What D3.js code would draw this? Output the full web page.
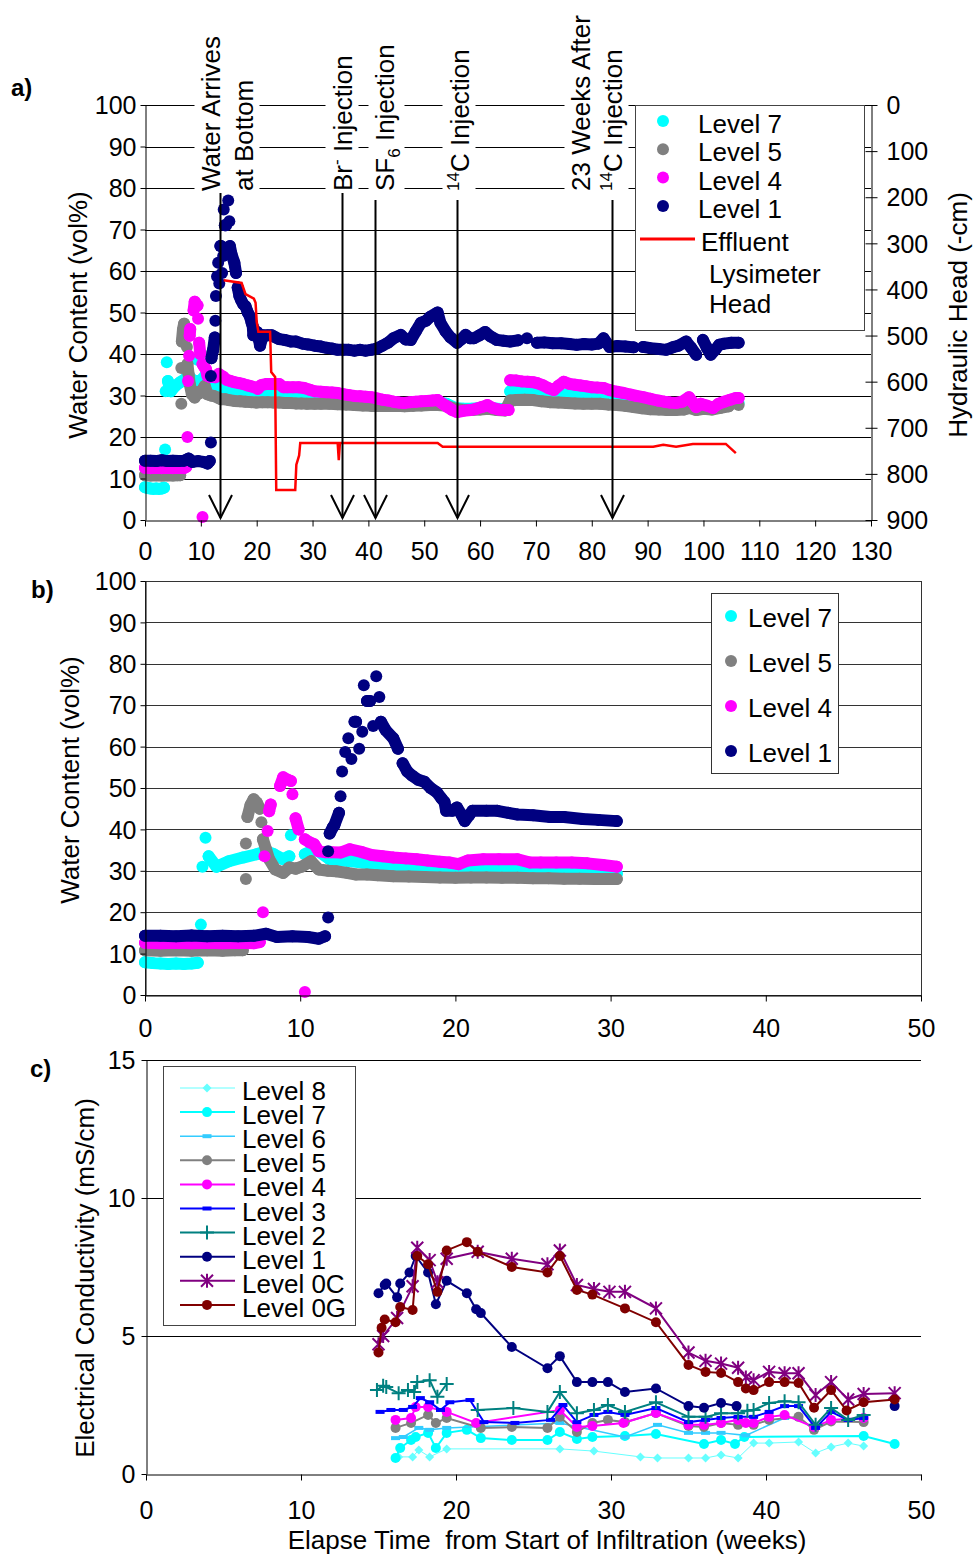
<!DOCTYPE html>
<html>
<head>
<meta charset="utf-8">
<script src="https://cdn.jsdelivr.net/npm/d3@7"></script>
<style>
  body { margin: 0; background: #fff; }
  svg { display: block; font-family: "Liberation Sans", Arial, sans-serif; }
</style>
</head>
<body>
<svg id="chart" width="976" height="1555"></svg>
<script>
// ---- water content readings [week, vol%] (shared by panels a and b)
const level7 = [[0,7.9],[0.5,7.7],[1,7.6],[1.5,7.5],[2,7.6],[2.5,7.5],[3,7.6],[3.4,7.8],[3.6,17],[3.7,31],[3.9,38],[4.1,33.5],[4.6,31],[5.4,32.3],[6.3,33.2],[7.2,34],[7.8,34.7],[8.3,34],[8.9,32.8],[9.3,33.5],[9.4,38.6],[10.3,34],[11,35.2],[11.9,32.8],[12.6,32.5],[13.3,32.3],[14,32],[14.8,31.6],[15.6,31.3],[16.5,31],[17.5,30.7],[18.5,30.5],[19.5,30.3],[20.5,30.2],[21.5,30.2],[22.5,30.1],[23.5,30],[24.5,30],[25.5,29.9],[26.5,29.8],[27.5,29.7],[28.5,29.6],[29.5,29.5],[30.4,29.3],
  [31.5,29.2],[33,29],[34.5,28.8],[36,28.6],[37.5,28.5],[39,28.3],[40.5,28.2],[42,28.2],[43.5,28.1],[45,28.1],[46.5,28],[48,28.2],[49.5,28.3],[51,28.4],[52.5,28.4],[54,28],[55.5,27],[57,26.8],[58.5,26.8],[60,27],[61.5,27.2],[63,26.8],[64.5,26.7],[65.4,31],[66.5,31.3],[68,31],[69.5,30.8],[71,30.5],[72.5,30.2],[74,30],[75.5,30.2],[77,30],[78.5,29.6],[80,29.3],[81.5,29],[83,28.6],[84.5,28.3],[86,28],[87.5,27.6],[89,27.3],[90.5,27.1],[92,27],[93.5,26.9],[95,26.9],[96.5,27],[98,27.2],[99.5,27.2],[101,27],[102.5,27.4],[104,27.8],[106.3,28.2]]
const level5 = [[0,10.8],[1,10.7],[2,10.8],[3,10.7],[4,10.8],[5,10.7],[5.8,10.8],[6.3,10.8],[6.5,28],[6.5,36.6],[6.6,43],[6.8,45.9],[7,47.3],[7.2,46.5],[7.4,45],[7.5,41.7],[7.6,37.6],[7.8,35.2],[8,32.8],[8.4,30.3],[8.9,29.5],[9.3,30.8],[9.7,30.5],[10.1,31],[10.7,32.3],[11.2,30.3],[11.8,30],[12.3,29.9],[13,29.5],[13.6,29.1],[14.3,29.1],[15,28.9],[16,28.7],[17,28.6],[18,28.5],[19,28.4],[20,28.3],[21,28.4],[22,28.4],[23,28.3],[24,28.3],[25,28.2],[26,28.2],[27,28.1],[28,28.1],[29,28],[30.4,28],
  [31.5,28],[33,28],[34.5,27.9],[36,27.8],[37.5,27.7],[39,27.6],[40.5,27.5],[42,27.5],[43.5,27.5],[45,27.5],[46.5,27.4],[48,27.5],[49.5,27.6],[51,27.7],[52.5,27.7],[54,27.5],[55.5,26.8],[57,26.5],[58.5,26.5],[60,26.6],[61.5,26.8],[63,26.5],[64.5,26.4],[65.4,28.8],[66.5,28.9],[68,29],[69.5,28.9],[71,28.6],[72.5,28.4],[74,28.3],[75.5,28.2],[77,28.1],[78.5,28],[80,28],[81.5,28],[83,27.8],[84.5,27.7],[86,27.5],[87.5,27.2],[89,26.9],[90.5,26.7],[92,26.6],[93.5,26.5],[95,26.5],[96.5,26.6],[97.5,27],[98.7,26.5],[100,26.8],[101.5,26.6],[103,27],[104.5,27.4],[106.3,27.7]]
const level4 = [[0,12.6],[1,12.5],[2,12.6],[3,12.5],[4,12.6],[5,12.5],[6,12.6],[7,12.5],[7.4,12.8],[7.6,20],[7.7,33.5],[7.9,39.6],[8,44.4],[8.1,46],[8.7,50.5],[8.9,52.6],[9.2,52],[9.4,51.7],[9.5,48.5],[9.7,42.7],[9.9,40],[10.3,0.7],[10.3,37.6],[10.6,36.9],[10.9,36.4],[11.2,34.7],[11.6,34.5],[12,34.5],[12.6,34.4],[13.2,35.2],[14,34.5],[14.6,33.8],[15.3,33.5],[16,33.2],[16.8,33],[17.5,32.8],[18.2,32.5],[19,32.2],[19.6,32],[20.2,31.6],[20.8,32.5],[21.8,32.8],[22.8,32.8],[24,32.8],[24.8,32],[25.5,32],[26.5,32],[27.5,32],[28.5,31.8],[29.5,31.4],[30.4,31],
  [31.5,30.9],[32.5,30.8],[33.5,30.7],[34.5,30.6],[35.5,30.3],[36.5,30.1],[37.5,29.9],[38.5,29.8],[39.5,29.7],[40.5,29.6],[41.5,29.3],[42.5,29],[43.5,28.8],[44.5,28.5],[45.5,28.3],[46.4,28.2],[47.5,28.4],[48.5,28.5],[49.5,28.6],[50.5,28.7],[51.5,28.8],[52.4,28.9],[53.3,28],[54.2,27.2],[55,26.5],[55.9,26],[57,26.3],[58.3,26.5],[59.3,26.8],[60.3,27.2],[61.3,27.7],[62.3,27],[63.3,26.6],[64.3,26.5],[65.1,26.5],[65.4,33.7],[66.5,33.6],[67.5,33.4],[68.5,33.3],[69.5,33.2],[70.2,33],[71.2,32.5],[72.2,31.8],[73.2,31.3],[74.1,32.4],[75,33.3],[76,32.8],[77,32.6],[78,32.4],[79,32.2],[80,32],[81,31.9],[82.1,31.8],[83.2,31.3],[84.5,30.9],[85.7,30.6],[87,30.2],[88,29.9],[89.2,29.6],[90.5,29.2],[91.8,28.8],[93,28.5],[94,28.3],[95.1,28.2],[96.2,28.5],[97.4,29.6],[98,28.5],[98.7,27.2],[99.5,28],[100.5,27.6],[101.7,27],[102.7,28],[103.7,28.5],[104.8,29],[105.8,29.4],[106.3,29.4]]
const level1 = [[0,14.3],[1,14.3],[2,14.2],[3,14.4],[4,14.2],[5,14.3],[6,14.2],[7,14.3],[7.8,14.8],[8.5,14],[9.5,14.2],[10.5,14],[11.2,13.6],[11.6,14.2],[11.8,18.7],[11.8,34.7],[11.9,39],[12.1,40.5],[12.2,41],[12.5,44],[12.6,48],[12.7,54],[12.9,58.7],[13.1,62],[13.3,57],[13.5,66],[13.6,66],[13.8,59.5],[14,63.6],[14.1,74.8],[14.3,71],[14.5,71],[14.7,65],[14.9,77],[15.1,72],[15.2,66],[15.5,64],[16,62],[16.3,59.5],[16.6,56],[16.9,54],[17.2,53],[17.6,52],[18,51.5],[18.4,50],[18.8,49],[19.1,47.5],[19.3,46.6],[19.4,44.5],[19.8,44.5],[20.1,45.3],[20.4,43.5],[20.6,42],[20.9,43.5],[21.1,44.5],[22,44.5],[22.7,44.5],[23.4,44],[24,43.6],[25,43.4],[26.1,43],[27,43],[28.2,42.5],[29.2,42.3],[30.4,42],
  [31.5,41.8],[32.5,41.5],[33.5,41.3],[34.5,41],[35.5,41],[36.5,41],[37.5,40.8],[38.5,41],[39.5,40.8],[40.5,41],[41.5,41.3],[42.5,42],[43.5,42.7],[44.5,43.8],[45.8,44.6],[46.7,43.5],[47.6,43.4],[48.5,45.5],[49.4,47.5],[50.3,48],[51.1,49],[52.4,50],[52.9,47.5],[53.8,45.5],[54.7,44],[55.9,42.7],[56.6,43.5],[57.4,44.6],[58.2,43.8],[58.9,43.8],[59.9,44.5],[60.9,45.3],[61.9,44.2],[63,43.4],[64.2,43.2],[65.4,43],[66.8,43.3],[68.4,43.8],[70.2,42.7],[71.5,42.8],[73,42.6],[74.5,42.6],[76,42.4],[77.3,42.2],[78.6,42.4],[80,42.3],[81.2,42.5],[82.1,43.8],[83.2,41.7],[84.5,41.9],[86,41.8],[87.5,41.6],[89.2,41.7],[90.5,41.4],[92,41.2],[93.3,41],[94.5,41.6],[95.5,42],[96.9,43],[97.8,41.5],[98.7,39.8],[99.9,43.4],[100.6,41.5],[101.3,39.8],[102.1,41],[102.8,42.2],[103.7,42.5],[105,42.7],[106.3,42.7]]
// effluent lysimeter head [week, -cm]
const effluentHead = [[14.1,380],[17.3,386],[18,410],[19.5,420],[19.8,429],[20,470],[20.3,492],[22.4,492],[22.6,579],[23.3,590],[23.5,835],[26.9,835],[27.1,780],[27.6,760],[27.8,733],[34.5,733],[34.7,770],[34.9,733],[52.4,733],[53.3,741],[91,741],[92.8,737],[95.1,741],[98.1,735],[104,735],[105.8,755]]

// ---- electrical conductivity [week, mS/cm], null = break in the line
const ecLevel8 = [[16.3,0.62],[17.2,0.62],[17.6,0.87],[18.3,0.62],[19.4,0.91],[26.7,0.91],[28.9,0.83],[31.9,0.62],[33,0.58],[35,0.58],[36.1,0.58],[37.1,0.69],[38.2,0.58],[39.2,1.12],[40.2,1.12],[42.1,1.16],[43.2,0.76],[44.2,0.98],[45.3,1.12],[46.3,1.01]]
const ecLevel7 = [[16.1,0.58],[16.4,0.94],[17.1,1.23],[17.4,1.34],[18.2,1.49],[18.7,0.94],[19.4,1.49],[20.7,1.6],[21.6,1.3],[23.6,1.23],[25.9,1.23],[26.7,1.52],[27.8,1.27],[28.8,1.34],[30.9,1.38],[32.9,1.45],[36,1.09],[37.1,1.23],[38,1.09],[38.6,1.34],[46.3,1.38],[48.3,1.09]]
const ecLevel6 = [[16.1,1.3],[16.6,1.34],[17.6,1.67],[18.3,1.6],[19.4,1.67],[26.7,1.85],[30.9,1.34],[33,1.78],[35,1.49],[36.1,1.49],[37.1,1.49],[38.7,1.4],[41.2,2.03]]
const ecLevel5 = [[16.1,1.67],[17.1,1.85],[18.2,2.14],[18.7,1.85],[19.4,2.03],[21.6,1.67],[23.6,1.7],[25.9,1.67],[26.7,2.07],[27.8,1.52],[28.8,1.85],[29.8,1.96],[30.9,1.88],[32.9,2.21],[35,1.74],[36,1.7],[37.1,1.85],[38.2,1.78],[39.2,1.78],[40.2,1.96],[42.1,2.07],[43.1,1.6],[44.2,1.9],[46.3,1.88]]
const ecLevel4 = [[16.1,1.96],[17.1,2.03],[17.4,2.43],[18.2,2.43],[19.4,2.25],[21.3,1.85],[26.7,2.32],[27.8,1.7],[28.8,1.74],[30.8,1.85],[32.9,2.21],[35,1.78],[36,1.78],[37.1,1.85],[38.2,1.96],[38.7,1.85],[39.2,1.85],[40.2,2.07],[41.2,2.14],[43.1,1.7],[44.2,1.96],[46.3,2.03]]
const ecLevel3 = [[15.1,2.25],[15.8,2.32],[16.6,2.32],[17.2,2.43],[17.7,2.75],[18.3,2.6],[19,2.32],[19.6,2.6],[20.9,2.68],[21.8,1.88],[23.8,1.85],[26.1,1.96],[26.9,2.5],[27.8,1.88],[28.9,2.14],[29.8,2.25],[30.9,2.14],[32.9,2.39],[35,1.88],[36.1,1.96],[37.1,2.03],[38.2,2.07],[39.2,2.07],[40.2,2.25],[41.2,2.46],[42.1,2.46],[43.2,1.67],[44.2,2.25],[45.3,1.96],[46.3,2.03]]
const ecLevel2 = [[14.9,3.04],[15.3,3.2],[15.5,3.15],[16.3,2.93],[16.9,3.04],[17.3,2.97],[17.5,3.33],[18.3,3.4],[18.8,2.8],[19.4,3.26],null,[21.4,2.32],[23.7,2.39],[25.9,2.25],[26.7,2.97],[27.8,2.2],[28.9,2.32],[29.8,2.5],[30.9,2.25],[32.9,2.6],[35,2.07],[36.1,2.07],[37.1,2.2],[38.2,2.2],[38.8,2.29],[39.2,2.32],[40.2,2.57],[41.2,2.64],[42.1,2.6],[43.2,1.78],[44.2,2.39],[45.3,1.96],[46.3,2.14]]
const ecLevel1 = [[15,6.55],[15.4,6.85],[15.5,6.9],[16.2,6.4],[16.4,6.9],[17,7.3],[17.4,7.9],[18.2,7.3],[18.7,6.15],[19.4,7.0],[20.7,6.55],[21.3,5.97],[21.6,5.83],[23.6,4.6],[25.9,3.83],[26.7,4.27],[27.8,3.33],[28.8,3.33],[29.8,3.33],[30.9,2.97],[32.9,3.1],[35,2.46],[36,2.4],[37.1,2.57],[38.1,2.46],null,[48.3,2.46]]
const ecLevel0C = [[15,4.7],[15.3,5.0],[16.2,5.65],[17.2,6.8],[17.5,8.2],[18.3,7.75],[18.8,6.95],[19.4,7.8],[21.4,8.05],[23.6,7.8],[25.9,7.6],[26.7,8.1],[27.8,6.85],[28.9,6.7],[29.9,6.6],[30.9,6.6],[32.9,6.0],[35,4.4],[36.1,4.1],[37.1,4.0],[38.2,3.85],[38.7,3.5],[39.2,3.4],[40.2,3.7],[41.2,3.65],[42.1,3.65],[43.2,2.86],[44.2,3.33],[45.3,2.7],[46.3,2.9],[48.3,2.93]]
const ecLevel0G = [[15,4.4],[15.2,5.3],[15.4,5.6],[16.1,5.5],[16.4,6.05],[17.2,5.94],[17.5,7.9],[18.2,7.6],[18.8,6.6],[19.4,8.1],[20.7,8.4],[21.4,8.05],[23.6,7.5],[25.9,7.3],[26.7,7.9],[27.8,6.67],[28.8,6.5],[30.9,6.0],[32.9,5.5],[35,3.95],[36.1,3.7],[37.1,3.66],[38.2,3.33],[38.7,3.1],[39.2,3.04],[40.2,3.33],[41.2,3.33],[42.1,3.3],[43.1,2.4],[44.2,3.04],[45.2,2.3],[46.3,2.6],[48.3,2.7]]

// ---- labels and ticks
const wcNames = ['Level 7', 'Level 5', 'Level 4', 'Level 1']
const ecNames = ['Level 8', 'Level 7', 'Level 6', 'Level 5', 'Level 4', 'Level 3', 'Level 2', 'Level 1', 'Level 0C', 'Level 0G']
const aWeekTicks = [0, 10, 20, 30, 40, 50, 60, 70, 80, 90, 100, 110, 120, 130]
const wcTicks = [0, 10, 20, 30, 40, 50, 60, 70, 80, 90, 100]
const headTicks = [0, 100, 200, 300, 400, 500, 600, 700, 800, 900]
const bcWeekTicks = [0, 10, 20, 30, 40, 50]
const ecTicks = [0, 5, 10, 15]
// [text, 0 normal / 1 superscript / -1 subscript]
const events = [
  { week: 13.4, lines: [[['Water Arrives', 0]], [['at Bottom', 0]]] },
  { week: 35.2, lines: [[['Br', 0], ['-', 1], [' Injection', 0]]] },
  { week: 41.1, lines: [[['SF', 0], ['6', -1], [' Injection', 0]]] },
  { week: 55.8, lines: [[['14', 1], ['C Injection', 0]]] },
  { week: 83.7, lines: [[['23 Weeks After', 0]], [['14', 1], ['C Injection', 0]]] },
]

// ---- styles
const wcColors = ['#00FFFF', '#808080', '#FF00FF', '#000080']
const eventLineOffsets = [[-10, 23], [0], [9], [2], [-32, 0]]
const eventArrowTop = [193, 193, 200, 200, 200]
const ecStyles = [
  { color: '#66FFFF', width: 1, marker: 'diamond' },
  { color: '#00FFFF', width: 2, marker: 'circle' },
  { color: '#33CCFF', width: 1.5, marker: 'dash' },
  { color: '#808080', width: 2, marker: 'circle' },
  { color: '#FF00FF', width: 2, marker: 'circle' },
  { color: '#0000FF', width: 2, marker: 'dash' },
  { color: '#008080', width: 2, marker: 'plus' },
  { color: '#000080', width: 2, marker: 'circle' },
  { color: '#800080', width: 2, marker: 'star' },
  { color: '#800000', width: 2, marker: 'circle' },
]
const ecSeries = [ecLevel8, ecLevel7, ecLevel6, ecLevel5, ecLevel4, ecLevel3, ecLevel2, ecLevel1, ecLevel0C, ecLevel0G]
const wcSeries = [level7, level5, level4, level1]

const svg = d3.select('#chart')
const TICK_FONT = 25
const TITLE_FONT = 26

function styleAxis(g, color = '#000') {
  g.attr('font-family', null).attr('font-size', TICK_FONT)
  g.select('.domain').attr('stroke', color).attr('stroke-width', 1)
  g.selectAll('.tick line').attr('stroke', color)
  g.selectAll('.tick text').attr('fill', '#000')
}

function gridLines(g, values, y, x0, x1, color) {
  g.selectAll(null).data(values).enter().append('line')
    .attr('x1', x0).attr('x2', x1)
    .attr('y1', d => Math.round(y(d)) + 0.5).attr('y2', d => Math.round(y(d)) + 0.5)
    .attr('stroke', color).attr('stroke-width', 1)
}

function rotatedTitle(text, cx, cy) {
  svg.append('text')
    .attr('transform', `translate(${cx},${cy}) rotate(-90)`)
    .attr('text-anchor', 'middle').attr('dy', '0.35em')
    .attr('font-size', TITLE_FONT).text(text)
}

// dense daily readings: overlapping dots, joined where consecutive readings are close
function drawReadings(g, data, x, y, color, r) {
  const runs = []
  let cur = []
  data.forEach((d, i) => {
    const p = data[i - 1]
    if (p && (d[0] - p[0] > 1.6 || Math.abs(d[1] - p[1]) > 3)) {
      runs.push(cur)
      cur = []
    }
    cur.push(d)
  })
  runs.push(cur)
  const line = d3.line().x(d => x(d[0])).y(d => y(d[1]))
  g.selectAll(null).data(runs.filter(r => r.length > 1)).enter().append('path')
    .attr('d', line).attr('fill', 'none').attr('stroke', color)
    .attr('stroke-width', 2 * r).attr('stroke-linecap', 'round').attr('stroke-linejoin', 'round')
  g.selectAll(null).data(data).enter().append('circle')
    .attr('cx', d => x(d[0])).attr('cy', d => y(d[1])).attr('r', r).attr('fill', color)
}

function drawMarker(g, type, color) {
  switch (type) {
    case 'circle':
      g.append('circle').attr('r', 5).attr('fill', color)
      break
    case 'diamond':
      g.append('path').attr('d', 'M0,-4.5L4.5,0L0,4.5L-4.5,0Z').attr('fill', color)
      break
    case 'dash':
      g.append('rect').attr('x', -4.5).attr('y', -2).attr('width', 9).attr('height', 4).attr('fill', color)
      break
    case 'plus':
      g.append('path').attr('d', 'M-7,0H7M0,-7V7').attr('stroke', color).attr('stroke-width', 2)
      break
    case 'star':
      g.append('path').attr('d', 'M-6,-6L6,6M-6,6L6,-6M0,-7V7').attr('stroke', color).attr('stroke-width', 2)
      break
  }
}

function richText(text, parts) {
  let shift = 0
  parts.forEach(([t, s]) => {
    const target = s === 1 ? -10 : s === -1 ? 6 : 0
    text.append('tspan')
      .attr('dy', target - shift)
      .attr('font-size', s === 0 ? null : 17)
      .text(t)
    shift = target
  })
}

// ================= panel a =================
const xA = d3.scaleLinear().domain([0, 130]).range([145, 871])
const yA = d3.scaleLinear().domain([0, 100]).range([520, 105])
const yHead = d3.scaleLinear().domain([0, 900]).range([105, 520])
const gA = svg.append('g')

gridLines(gA, wcTicks.slice(1), yA, 145, 871, '#000')

const events_g = gA.append('g')
events.forEach((ev, i) => {
  const ex = Math.round(xA(ev.week)) + 0.5
  const lab = events_g.append('g').attr('transform', `translate(${ex},191) rotate(-90)`)
  const texts = lab.append('g')
  ev.lines.forEach((parts, j) => {
    const t = texts.append('text').attr('x', 0).attr('y', eventLineOffsets[i][j] + 9)
      .attr('font-size', TITLE_FONT)
    richText(t, parts)
  })
  const bb = texts.node().getBBox()
  lab.insert('rect', ':first-child')
    .attr('x', bb.x - 3).attr('y', bb.y - 1).attr('width', bb.width + 6).attr('height', bb.height + 2)
    .attr('fill', '#fff')
})

wcSeries.forEach((data, i) => drawReadings(gA.append('g'), data, xA, yA, wcColors[i], 6))

gA.append('path').datum(effluentHead)
  .attr('d', d3.line().x(d => xA(d[0])).y(d => yHead(d[1])))
  .attr('fill', 'none').attr('stroke', '#FF0000').attr('stroke-width', 2.5)

// arrows
events.forEach((ev, i) => {
  const ex = Math.round(xA(ev.week)) + 0.5
  const yb = 518
  events_g.append('line').attr('x1', ex).attr('x2', ex).attr('y1', eventArrowTop[i]).attr('y2', yb)
    .attr('stroke', '#000').attr('stroke-width', 2)
  events_g.append('path').attr('d', `M${ex - 11.5},${yb - 23}L${ex},${yb}L${ex + 11.5},${yb - 23}`)
    .attr('fill', 'none').attr('stroke', '#000').attr('stroke-width', 2)
})
events_g.raise()

const axAx = gA.append('g').attr('transform', 'translate(0,520.5)')
  .call(d3.axisBottom(xA).tickValues(aWeekTicks).tickSize(6).tickSizeOuter(0))
styleAxis(axAx)
axAx.selectAll('.tick text').attr('y', 31).attr('dy', '0.35em')

const ayAx = gA.append('g').attr('transform', 'translate(145.5,0)')
  .call(d3.axisLeft(yA).tickValues(wcTicks).tickSize(5).tickSizeOuter(0))
styleAxis(ayAx)
ayAx.selectAll('.tick text').attr('x', -9).attr('dy', '0.35em')

const ahAx = gA.append('g').attr('transform', 'translate(871.5,0)')
  .call(d3.axisRight(yHead).tickValues(headTicks).tickSize(6).tickSizeOuter(0))
styleAxis(ahAx)
ahAx.selectAll('.tick line').attr('x1', -6)
ahAx.selectAll('.tick text').attr('x', 15).attr('dy', '0.35em')

// legend a
const legA = gA.append('g')
legA.append('rect').attr('x', 635.5).attr('y', 105.5).attr('width', 229).attr('height', 225)
  .attr('fill', '#fff').attr('stroke', '#444')
wcNames.forEach((name, i) => {
  const ly = 121 + i * 28.3
  legA.append('circle').attr('cx', 663).attr('cy', ly).attr('r', 6).attr('fill', wcColors[i])
  legA.append('text').attr('x', 698).attr('y', ly + 12).attr('font-size', TITLE_FONT).text(name)
})
legA.append('line').attr('x1', 640).attr('x2', 695).attr('y1', 239).attr('y2', 239)
  .attr('stroke', '#FF0000').attr('stroke-width', 3)
legA.append('text').attr('x', 701).attr('y', 251).attr('font-size', TITLE_FONT).text('Effluent')
legA.append('text').attr('x', 709).attr('y', 283).attr('font-size', TITLE_FONT).text('Lysimeter')
legA.append('text').attr('x', 709).attr('y', 313).attr('font-size', TITLE_FONT).text('Head')

svg.append('text').attr('x', 11).attr('y', 96).attr('font-size', 24).attr('font-weight', 'bold').text('a)')
rotatedTitle('Water Content (vol%)', 78, 315)
rotatedTitle('Hydraulic Head (-cm)', 958, 315)

// ================= panel b =================
const xB = d3.scaleLinear().domain([0, 50]).range([145, 921])
const yB = d3.scaleLinear().domain([0, 100]).range([995, 581])
const gB = svg.append('g')
gridLines(gB, wcTicks.slice(1), yB, 145, 921, '#333')
gB.append('rect').attr('x', 145.5).attr('y', 581.5).attr('width', 776).attr('height', 414)
  .attr('fill', 'none').attr('stroke', '#333')
wcSeries.forEach((data, i) =>
  drawReadings(gB.append('g'), data.filter(d => d[0] <= 30.5), xB, yB, wcColors[i], 6))

const bxAx = gB.append('g').attr('transform', 'translate(0,995.5)')
  .call(d3.axisBottom(xB).tickValues(bcWeekTicks).tickSize(6).tickSizeOuter(0))
styleAxis(bxAx)
bxAx.selectAll('.tick text').attr('y', 33).attr('dy', '0.35em')
const byAx = gB.append('g').attr('transform', 'translate(145.5,0)')
  .call(d3.axisLeft(yB).tickValues(wcTicks).tickSize(5).tickSizeOuter(0))
styleAxis(byAx)
byAx.selectAll('.tick text').attr('x', -9).attr('dy', '0.35em')

const legB = gB.append('g')
legB.append('rect').attr('x', 711.5).attr('y', 593.5).attr('width', 127).attr('height', 180)
  .attr('fill', '#fff').attr('stroke', '#333')
wcNames.forEach((name, i) => {
  const ly = 616 + i * 45
  legB.append('circle').attr('cx', 731).attr('cy', ly).attr('r', 6).attr('fill', wcColors[i])
  legB.append('text').attr('x', 748).attr('y', ly + 11).attr('font-size', TITLE_FONT).text(name)
})
svg.append('text').attr('x', 31).attr('y', 598).attr('font-size', 24).attr('font-weight', 'bold').text('b)')
rotatedTitle('Water Content (vol%)', 70, 780)

// ================= panel c =================
const xC = d3.scaleLinear().domain([0, 50]).range([146, 921])
const yC = d3.scaleLinear().domain([0, 15]).range([1474, 1060])
const gC = svg.append('g')
gridLines(gC, ecTicks.slice(1), yC, 146, 921, '#000')

const ecLine = d3.line().defined(d => d).x(d => xC(d[0])).y(d => yC(d[1]))
ecSeries.forEach((data, i) => {
  const st = ecStyles[i]
  const s = gC.append('g')
  s.append('path').datum(data).attr('d', ecLine)
    .attr('fill', 'none').attr('stroke', st.color).attr('stroke-width', st.width)
  s.selectAll(null).data(data.filter(d => d)).enter().append('g')
    .attr('transform', d => `translate(${xC(d[0])},${yC(d[1])})`)
    .each(function () { drawMarker(d3.select(this), st.marker, st.color) })
})

const cxAx = gC.append('g').attr('transform', 'translate(0,1474.5)')
  .call(d3.axisBottom(xC).tickValues(bcWeekTicks).tickSize(6).tickSizeOuter(0))
styleAxis(cxAx)
cxAx.selectAll('.tick text').attr('y', 36).attr('dy', '0.35em')
const cyAx = gC.append('g').attr('transform', 'translate(146.5,0)')
  .call(d3.axisLeft(yC).tickValues(ecTicks).tickSize(5).tickSizeOuter(0))
styleAxis(cyAx)
cyAx.selectAll('.tick text').attr('x', -11).attr('dy', '0.35em')

const legC = gC.append('g')
legC.append('rect').attr('x', 163.5).attr('y', 1066.5).attr('width', 192).attr('height', 259)
  .attr('fill', '#fff').attr('stroke', '#444')
ecNames.forEach((name, i) => {
  const ly = 1088 + i * 24.1
  const st = ecStyles[i]
  legC.append('line').attr('x1', 180).attr('x2', 235).attr('y1', ly).attr('y2', ly)
    .attr('stroke', st.color).attr('stroke-width', st.width)
  drawMarker(legC.append('g').attr('transform', `translate(207,${ly})`), st.marker, st.color)
  legC.append('text').attr('x', 242).attr('y', ly + 12).attr('font-size', TITLE_FONT).text(name)
})

svg.append('text').attr('x', 30).attr('y', 1077).attr('font-size', 24).attr('font-weight', 'bold').text('c)')
rotatedTitle('Electrical Conductivity (mS/cm)', 85, 1278)
svg.append('text').attr('x', 547).attr('y', 1549).attr('text-anchor', 'middle')
  .attr('font-size', TITLE_FONT).style('white-space', 'pre')
  .text('Elapse Time  from Start of Infiltration (weeks)')
</script>
</body>
</html>
